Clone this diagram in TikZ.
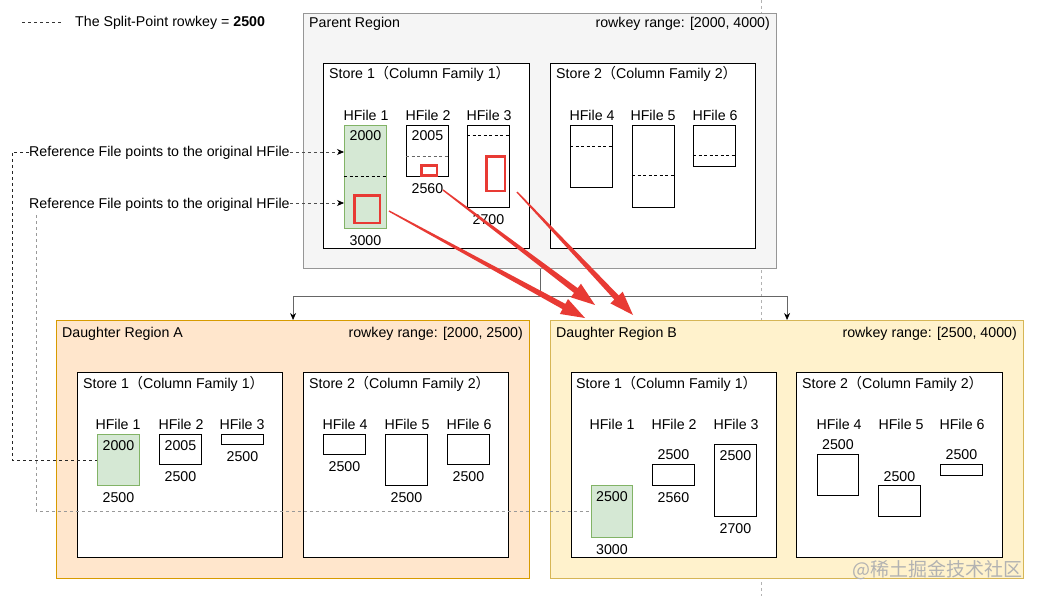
\documentclass[tikz,border=0pt]{standalone}
\usepackage{fontspec}
\setmainfont{Liberation Sans}
\newfontfamily\cjk{Noto Sans CJK SC}
\usepackage{tikz}
\usetikzlibrary{positioning,arrows.meta,calc}
\usepackage{xcolor}
\definecolor{parentfill}{RGB}{245,245,245}
\definecolor{parentline}{RGB}{150,150,150}
\definecolor{daughterafill}{RGB}{255,230,204}
\definecolor{daughteraline}{RGB}{215,155,0}
\definecolor{daughterbfill}{RGB}{255,242,204}
\definecolor{daughterbline}{RGB}{214,182,86}
\definecolor{hfgreen}{RGB}{213,232,212}
\definecolor{hfgreenline}{RGB}{130,179,102}
\definecolor{splitred}{RGB}{232,58,52}

\newcommand{\storetitle}[1]{Store #1{\cjk （}Column Family #1{\cjk ）}}
% tapered red arrow: tail, tip, name
\newcommand{\splitarrow}[3]{%
  \coordinate (#3h) at ($(#2)!24pt!(#1)$);
  \fill[splitred] ($(#1)!0.7pt!90:(#2)$) -- ($(#3h)!3pt!90:(#2)$) -- ($(#3h)!8.5pt!90:(#2)$) -- (#2)
    -- ($(#3h)!8.5pt!-90:(#2)$) -- ($(#3h)!3pt!-90:(#2)$) -- ($(#1)!0.7pt!-90:(#2)$) -- cycle;}

\begin{document}
\begin{tikzpicture}[
  x=1pt, y=-1pt,
  every node/.style={font=\fontsize{14.2}{16}\selectfont, inner sep=0pt, text height=10pt, text depth=0pt},
  box/.style={draw, anchor=north west, line width=0.9pt, fill=white},
  regionbox/.style={box, line width=1.1pt},
  hfile/.style={box, line width=0.8pt, minimum width=42pt},
  shared/.style={hfile, fill=hfgreen, draw=hfgreenline},
  hit/.style={draw=splitred, line width=2.6pt, anchor=north west},
  cut/.style={dash pattern=on 3pt off 2.5pt, line width=0.8pt},
  lbl/.style={anchor=west},
  rlbl/.style={anchor=east},
  tree/.style={draw=black!60, line width=0.8pt, -{Stealth[length=7pt,width=6pt,color=black]}},
  refarrow/.style={draw=black!70, dash pattern=on 3pt off 3pt, line width=0.7pt, -{Stealth[length=7pt,width=6pt,color=black]}},
  refline/.style={draw=black!85, dash pattern=on 3pt off 3pt, line width=0.8pt}
]
  \useasboundingbox (0,0) rectangle (1041,596);

  % split point line and legend
  \coordinate (splittop) at (761,0);
  \coordinate (splitbot) at (761,596);
  \draw[black!30, dash pattern=on 3pt off 3pt, line width=0.6pt] (splittop) -- (splitbot);
  \coordinate (leg1) at (22,22);
  \coordinate (leg2) at (62,22);
  \draw[black!80, dash pattern=on 3pt off 3pt, line width=0.6pt] (leg1) -- (leg2);
  \node[lbl] (legend) at (75,22) {The Split-Point rowkey = \textbf{2500}};

  % parent region
  \node[regionbox, fill=parentfill, draw=parentline, minimum width=473pt, minimum height=255pt] (parent) at (303,13) {};
  \node[lbl] (parentname) at (309,23) {Parent Region};
  \node[rlbl] (parentrange) at (770,23) {rowkey range: [2000, 4000)};
  \node[box, minimum width=206pt, minimum height=185pt] (ps1) at (323,63) {};
  \node[box, minimum width=205pt, minimum height=185pt] (ps2) at (550,63) {};
  \node[lbl] (ps1title) at (329,74) {\storetitle{1}};
  \node[lbl] (ps2title) at (556,74) {\storetitle{2}};

  \node (pl1) at (366,116) {HFile 1};
  \node (pl2) at (428,116) {HFile 2};
  \node (pl3) at (489,116) {HFile 3};
  \node (pl4) at (592,116) {HFile 4};
  \node (pl5) at (653,116) {HFile 5};
  \node (pl6) at (715,116) {HFile 6};

  \node[shared, minimum height=103pt] (p1) at (344,125) {};
  \node[hfile, minimum height=51pt] (p2) at (406,125) {};
  \node[hfile, minimum height=82pt] (p3) at (467,125) {};
  \node[hfile, minimum height=62pt] (p4) at (570,125) {};
  \node[hfile, minimum height=82pt] (p5) at (632,125) {};
  \node[hfile, minimum height=41pt] (p6) at (693,125) {};

  \draw[cut] (p1.west |- 0,176) -- (p1.east |- 0,176);
  \draw[cut, black!60] (p2.west |- 0,156) -- (p2.east |- 0,156);
  \draw[cut] (p3.west |- 0,135) -- (p3.east |- 0,135);
  \draw[cut] (p4.west |- 0,146) -- (p4.east |- 0,146);
  \draw[cut] (p5.west |- 0,175) -- (p5.east |- 0,175);
  \draw[cut] (p6.west |- 0,155) -- (p6.east |- 0,155);

  \node (p1top) at ([yshift=-11pt]p1.north) {2000};
  \node[below=6.5pt of p1] (p1bot) {3000};
  \node (p2top) at ([yshift=-11pt]p2.north) {2005};
  \node[below=6.5pt of p2] (p2bot) {2560};
  \node[below=6.5pt of p3] (p3bot) {2700};

  \node[hit, minimum width=25.4pt, minimum height=27.4pt] (hit1) at (353.3,194.3) {};
  \node[hit, minimum width=15.4pt, minimum height=8.4pt] (hit2) at (420.3,164.3) {};
  \node[hit, minimum width=18.4pt, minimum height=34.4pt] (hit3) at (485.3,155.3) {};

  % daughter region A
  \node[regionbox, fill=daughterafill, draw=daughteraline, minimum width=473pt, minimum height=258pt] (dA) at (56,320) {};
  \node[lbl] (dAname) at (62,332) {Daughter Region A};
  \node[rlbl] (dArange) at (523,332) {rowkey range: [2000, 2500)};
  \node[box, minimum width=205pt, minimum height=185pt] (as1) at (77,372) {};
  \node[box, minimum width=205pt, minimum height=185pt] (as2) at (303,372) {};
  \node[lbl] (as1title) at (83,383) {\storetitle{1}};
  \node[lbl] (as2title) at (309,383) {\storetitle{2}};

  \node (al1) at (118,424) {HFile 1};
  \node (al2) at (181,424) {HFile 2};
  \node (al3) at (242,424) {HFile 3};
  \node (al4) at (345,424) {HFile 4};
  \node (al5) at (407,424) {HFile 5};
  \node (al6) at (469,424) {HFile 6};

  \node[shared, minimum height=51pt] (a1) at (97,434) {};
  \node[hfile, minimum height=30pt] (a2) at (159,434) {};
  \node[hfile, minimum height=10pt] (a3) at (221,434) {};
  \node[hfile, minimum height=20pt] (a4) at (323,434) {};
  \node[hfile, minimum height=51pt] (a5) at (385,434) {};
  \node[hfile, minimum height=30pt] (a6) at (447,434) {};

  \node (a1top) at ([yshift=-11pt]a1.north) {2000};
  \node[below=6pt of a1] (a1bot) {2500};
  \node (a2top) at ([yshift=-11pt]a2.north) {2005};
  \node[below=6pt of a2] (a2bot) {2500};
  \node[below=6pt of a3] (a3bot) {2500};
  \node[below=6pt of a4] (a4bot) {2500};
  \node[below=6pt of a5] (a5bot) {2500};
  \node[below=6pt of a6] (a6bot) {2500};

  % daughter region B
  \node[regionbox, fill=daughterbfill, draw=daughterbline, minimum width=473pt, minimum height=258pt] (dB) at (550,320) {};
  \node[lbl] (dBname) at (556,332) {Daughter Region B};
  \node[rlbl] (dBrange) at (1017,332) {rowkey range: [2500, 4000)};
  \node[box, minimum width=205pt, minimum height=185pt] (bs1) at (571,372) {};
  \node[box, minimum width=206pt, minimum height=185pt] (bs2) at (796,372) {};
  \node[lbl] (bs1title) at (576,383) {\storetitle{1}};
  \node[lbl] (bs2title) at (802,383) {\storetitle{2}};

  \node (bl1) at (612,424) {HFile 1};
  \node (bl2) at (674,424) {HFile 2};
  \node (bl3) at (736,424) {HFile 3};
  \node (bl4) at (839,424) {HFile 4};
  \node (bl5) at (901,424) {HFile 5};
  \node (bl6) at (962,424) {HFile 6};

  \node[shared, minimum width=41pt, minimum height=52pt] (b1) at (591,485) {};
  \node[hfile, minimum height=21pt] (b2) at (652,464) {};
  \node[hfile, minimum height=72pt] (b3) at (714,444) {};
  \node[hfile, minimum width=41pt, minimum height=41pt] (b4) at (817,454) {};
  \node[hfile, minimum height=31pt] (b5) at (878,485) {};
  \node[hfile, minimum height=11pt] (b6) at (940,464) {};

  \node (b1top) at ([yshift=-11pt]b1.north) {2500};
  \node[below=6pt of b1] (b1bot) {3000};
  \node[above=4pt of b2] (b2top) {2500};
  \node[below=6pt of b2] (b2bot) {2560};
  \node (b3top) at ([yshift=-11pt]b3.north) {2500};
  \node[below=6pt of b3] (b3bot) {2700};
  \node[above=4pt of b4] (b4top) {2500};
  \node[above=3.5pt of b5] (b5top) {2500};
  \node[above=4pt of b6] (b6top) {2500};

  % split into two daughters
  \draw[tree] (parent.south) -- ++(0,27) -| (dA.north);
  \draw[tree] (parent.south) -- ++(0,27) -| (dB.north);

  % reference files
  \node[lbl] (ref1) at (29,152) {Reference File points to the original HFile};
  \node[lbl] (ref2) at (29,203) {Reference File points to the original HFile};
  \draw[refarrow] (ref1.east) -- (ref1.east -| p1.west);
  \draw[refarrow] (ref2.east) -- (ref2.east -| p1.west);
  \draw[refline] (ref1.west) -- ++(-17,0) |- (a1.west);
  \draw[refline, draw=black!40] ([xshift=7pt,yshift=-7pt]ref2.south west) |- (b1.west);

  % red arrows
  \coordinate (t1) at (389,211);
  \coordinate (h1) at (585,318);
  \coordinate (t2) at (443,190);
  \coordinate (h2) at (595,305);
  \coordinate (t3) at (517,192);
  \coordinate (h3) at (633,315);
  \splitarrow{t1}{h1}{r1}
  \splitarrow{t2}{h2}{r2}
  \splitarrow{t3}{h3}{r3}

  \node[anchor=east, font=\cjk\fontsize{19}{22}\selectfont, text=black!30, text height=15pt] (mark) at (1023,569) {@稀土掘金技术社区};
\end{tikzpicture}
\end{document}
